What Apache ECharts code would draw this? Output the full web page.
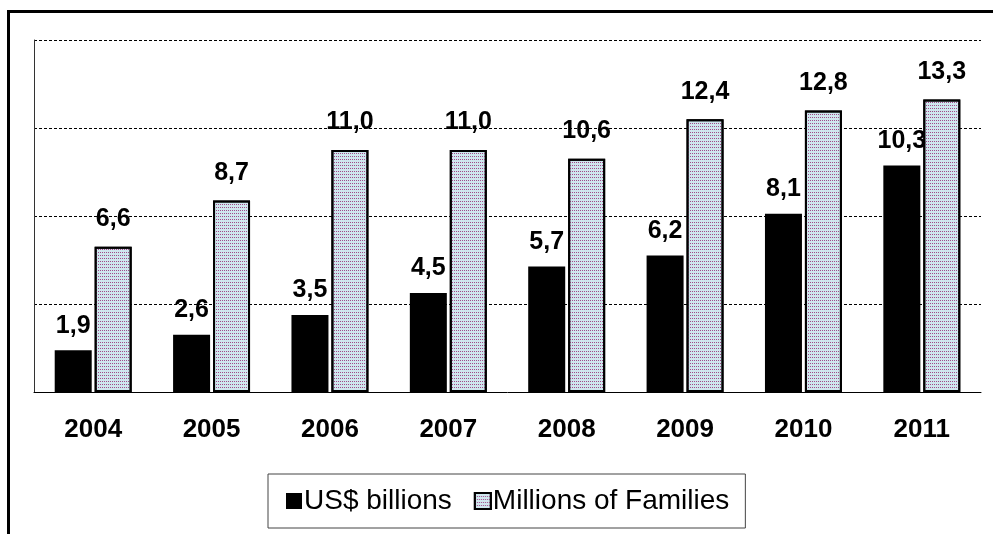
<!DOCTYPE html>
<html>
<head>
<meta charset="utf-8">
<script src="https://cdn.jsdelivr.net/npm/echarts@6/dist/echarts.min.js"></script>
<style>
html,body{margin:0;padding:0;background:#fff;}
#main{width:993px;height:534px;}
</style>
</head>
<body>
<div id="main"></div>
<script>
// categories and values
var years = ["2004","2005","2006","2007","2008","2009","2010","2011"];
var usBillions = [1.9, 2.6, 3.5, 4.5, 5.7, 6.2, 8.1, 10.3];
var millionsFamilies = [6.6, 8.7, 11.0, 11.0, 10.6, 12.4, 12.8, 13.3];
var seriesNames = ["US$ billions", "Millions of Families"];

var font = "'Liberation Sans', Arial, sans-serif";

function commaLabel(p){
    return p.value.toFixed(1).replace(".", ",");
}

var chart = echarts.init(document.getElementById('main'));
var option = {
    backgroundColor: '#fff',
    animation: false,
    graphic: [{
        type: 'rect',
        shape: {x: 8.5, y: 11.5, width: 1000, height: 540},
        style: {fill: null, stroke: '#000', lineWidth: 3}
    }],
    legend: {
        data: seriesNames,
        icon: 'rect',
        left: 268,
        top: 474,
        padding: [13, 16, 13, 18],
        itemWidth: 16,
        itemHeight: 16,
        itemGap: 22,
        borderColor: '#444',
        borderWidth: 1,
        backgroundColor: '#fff',
        textStyle: {fontFamily: font, fontSize: 28, color: '#000', padding: [0, 0, 0, -3]}
    },
    grid: {left: 34, right: 12, top: 40, bottom: 142, containLabel: false},
    xAxis: {
        type: 'category',
        data: years,
        axisLine: {lineStyle: {color: '#000', width: 1}},
        axisTick: {length: 9, lineStyle: {color: '#000'}},
        axisLabel: {fontFamily: font, fontSize: 26, fontWeight: 'bold', color: '#000', margin: 25}
    },
    yAxis: {
        type: 'value',
        min: 0,
        max: 16,
        interval: 4,
        axisLine: {show: true, lineStyle: {color: '#333'}},
        axisTick: {show: false},
        axisLabel: {show: false},
        splitLine: {lineStyle: {color: '#000', type: [3, 2], width: 1}}
    },
    series: [{
        name: seriesNames[0],
        type: 'bar',
        data: usBillions,
        barWidth: 37,
        barGap: '8%',
        itemStyle: {color: '#000'},
        label: {show: true, position: 'top', distance: 12, formatter: commaLabel,
            fontFamily: font, fontSize: 25, fontWeight: 'bold', color: '#000'}
    }, {
        name: seriesNames[1],
        type: 'bar',
        data: millionsFamilies,
        barWidth: 37,
        itemStyle: {
            color: '#cfe6ee',
            borderColor: '#000',
            borderWidth: 2,
            decal: {
                symbol: 'rect',
                symbolSize: 1,
                dashArrayX: [1, 1],
                dashArrayY: [1, 2],
                color: '#a04c88'
            }
        },
        label: {show: true, position: 'top', distance: 15, formatter: commaLabel,
            fontFamily: font, fontSize: 25, fontWeight: 'bold', color: '#000'}
    }]
};
chart.setOption(option);
</script>
</body>
</html>
